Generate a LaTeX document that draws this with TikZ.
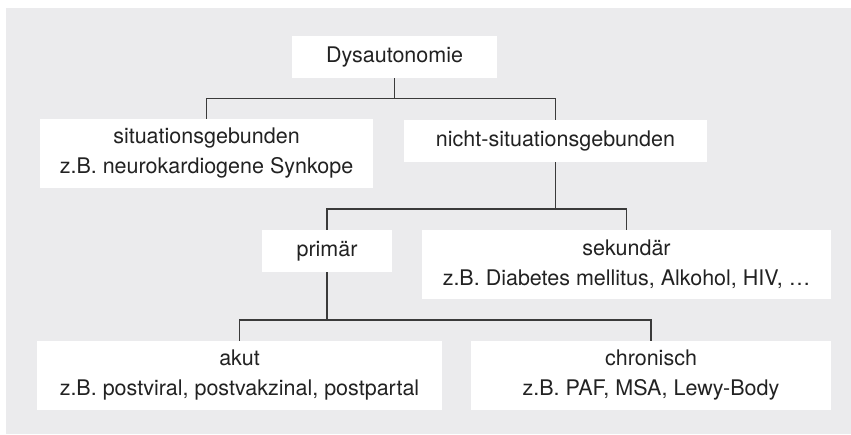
\documentclass[tikz,border=0pt]{standalone}
\usepackage{fontspec}
\setmainfont{TeX Gyre Heros}
\definecolor{bggray}{HTML}{EBEBED}
\definecolor{linegray}{HTML}{3A3A3A}
\definecolor{textgray}{HTML}{222222}
\begin{document}
\begin{tikzpicture}[x=1pt,y=-1pt,
  box/.style={fill=white,draw=none,inner sep=0pt,align=center,text=textgray,
    font=\fontsize{21.5}{30}\selectfont},
  conn/.style={draw=linegray,line width=1.2pt}]
\useasboundingbox (0,0) rectangle (851,434);
\fill[bggray] (6,8) rectangle (851,434);
\node[box,minimum width=205pt,minimum height=42pt] (dys) at (394.5,57) {Dysautonomie};
\node[box,minimum width=333pt,minimum height=69pt] (sit) at (206.5,153.5) {situationsgebunden\\z.B. neurokardiogene Synkope};
\node[box,minimum width=303pt,minimum height=42pt] (nicht) at (555.5,141) {nicht-situationsgebunden};
\node[box,minimum width=130pt,minimum height=42pt] (prim) at (327,251) {primär};
\node[box,minimum width=409pt,minimum height=69pt] (sek) at (626.5,264.5) {sekundär\\z.B. Diabetes mellitus, Alkohol, HIV, …};
\node[box,minimum width=405pt,minimum height=69pt] (akut) at (239.5,375.5) {akut\\z.B. postviral, postvakzinal, postpartal};
\node[box,minimum width=360pt,minimum height=69pt] (chron) at (651,375.5) {chronisch\\z.B. PAF, MSA, Lewy-Body};
\coordinate (b1) at (0,98.5);
\coordinate (b2) at (0,209);
\coordinate (b3) at (0,320);
\draw[conn] (dys.south) -- (dys.south |- b1) -| (sit.north);
\draw[conn] (dys.south |- b1) -| (nicht.north);
\draw[conn] (nicht.south) -- (nicht.south |- b2) -| (prim.north);
\draw[conn] (nicht.south |- b2) -| (sek.north);
\draw[conn] (prim.south) -- (prim.south |- b3) -| (akut.north);
\draw[conn] (prim.south |- b3) -| (chron.north);
\end{tikzpicture}
\end{document}
